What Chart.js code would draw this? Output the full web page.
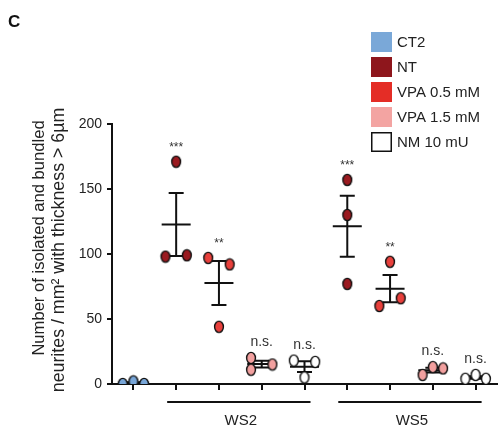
<!DOCTYPE html>
<html>
<head>
<meta charset="utf-8">
<script src="https://cdn.jsdelivr.net/npm/chart.js@4.4.1/dist/chart.umd.min.js"></script>
<style>
html,body{margin:0;padding:0;background:#fff;}
#wrap{width:503px;height:430px;position:relative;}
</style>
</head>
<body>
<div id="wrap"><canvas id="c" width="503" height="430"></canvas></div>
<script>
// ---------- DATA ----------
const categories = ['CT2','NT','VPA 0.5 mM','VPA 1.5 mM','NM 10 mU','NT','VPA 0.5 mM','VPA 1.5 mM','NM 10 mU'];
const legendLabels = ['CT2','NT','VPA 0.5 mM','VPA 1.5 mM','NM 10 mU'];
const ct2Values   = [0, 2, 0];
const ws2NT       = [98, 171, 99];
const ws2VPA05    = [97, 44, 92];
const ws2VPA15    = [20, 11, 15];
const ws2NM       = [18, 5, 17];
const ws5NT       = [157, 130, 77];
const ws5VPA05    = [94, 60, 66];
const ws5VPA15    = [7, 13, 12];
const ws5NM       = [4, 7, 4];
const sigLabels   = ['', '***', '**', 'n.s.', 'n.s.', '***', '**', 'n.s.', 'n.s.'];
const groupLabels = ['WS2', 'WS5'];
const groupSpans  = [[1, 4], [5, 8]];
const yTicks      = [0, 50, 100, 150, 200];
const yTitle      = ['Number of isolated and bundled', 'neurites / mm\u00B2 with thickness > 6\u00B5m'];

// ---------- STYLE / LAYOUT ----------
const FONT = 'Liberation Sans, Arial, Helvetica, sans-serif';
const colors = ['#78a6d8', '#9a1a20', '#e8403c', '#f2a09f', '#ffffff'];
const legendColors = ['#7aa8d8', '#8e161c', '#e42d26', '#f3a4a2', '#ffffff'];
// horizontal scatter of the three replicate points inside each category (in category units)
const jitter = [
  [-0.25, 0, 0.25], [-0.25, 0, 0.25], [-0.25, 0, 0.25], [-0.25, -0.25, 0.25], [-0.25, 0, 0.25],
  [0, 0, 0], [0, -0.25, 0.25], [-0.24, 0, 0.24], [-0.24, 0, 0.24]
];

const groupValues = [ct2Values, ws2NT, ws2VPA05, ws2VPA15, ws2NM, ws5NT, ws5VPA05, ws5VPA15, ws5NM];
const groupSeries = [0, 1, 2, 3, 4, 1, 2, 3, 4];

function makeDot(fill) {
  const cv = document.createElement('canvas');
  cv.width = 12; cv.height = 14;
  const g = cv.getContext('2d');
  g.beginPath();
  g.ellipse(6, 7, 4.4, 5.6, 0, 0, Math.PI * 2);
  g.fillStyle = fill; g.fill();
  g.lineWidth = 1.4; g.strokeStyle = '#111'; g.stroke();
  return cv;
}

const datasets = legendLabels.map((lab, s) => {
  const pts = [];
  groupValues.forEach((vals, gi) => {
    if (groupSeries[gi] !== s) return;
    vals.forEach((v, k) => pts.push({x: gi + jitter[gi][k], y: v}));
  });
  return {label: lab, data: pts, pointStyle: makeDot(colors[s]), backgroundColor: colors[s], borderColor: '#111'};
});

const extras = {
  id: 'extras',
  beforeDatasetsDraw(chart) {
    const {ctx, scales: {x, y}} = chart;
    ctx.save();
    ctx.strokeStyle = '#111'; ctx.lineWidth = 2; ctx.lineCap = 'butt';
    groupValues.forEach((vals, gi) => {
      const n = vals.length;
      const mean = vals.reduce((a, b) => a + b, 0) / n;
      const sd = Math.sqrt(vals.reduce((a, b) => a + (b - mean) * (b - mean), 0) / (n - 1));
      const sem = sd / Math.sqrt(n);
      const cx = x.getPixelForValue(gi);
      const ym = y.getPixelForValue(mean), yt = y.getPixelForValue(mean + sem), yb = y.getPixelForValue(Math.max(0, mean - sem));
      ctx.beginPath();
      ctx.moveTo(cx - 14.5, ym); ctx.lineTo(cx + 14.5, ym);
      ctx.moveTo(cx, yt); ctx.lineTo(cx, yb);
      ctx.moveTo(cx - 7.5, yt); ctx.lineTo(cx + 7.5, yt);
      ctx.moveTo(cx - 7.5, yb); ctx.lineTo(cx + 7.5, yb);
      ctx.stroke();
    });
    ctx.restore();
  },
  afterDraw(chart) {
    const {ctx, scales: {x, y}} = chart;
    ctx.save();
    // significance labels
    ctx.fillStyle = '#333'; ctx.textAlign = 'center'; ctx.textBaseline = 'alphabetic';
    sigLabels.forEach((t, gi) => {
      if (!t) return;
      const top = y.getPixelForValue(Math.max(...groupValues[gi]));
      const cx = x.getPixelForValue(gi);
      if (t.indexOf('*') >= 0) { ctx.font = '12px ' + FONT; ctx.fillText(t, cx, top - 11); }
      else { ctx.font = '14px ' + FONT; ctx.fillText(t, cx, top - 12); }
    });
    // group underlines and labels
    ctx.strokeStyle = '#111'; ctx.lineWidth = 2;
    ctx.fillStyle = '#222'; ctx.font = '15px ' + FONT;
    groupSpans.forEach((sp, i) => {
      const a = x.getPixelForValue(sp[0]) - 9, b = x.getPixelForValue(sp[1]) + 6;
      ctx.beginPath(); ctx.moveTo(a, 402); ctx.lineTo(b, 402); ctx.stroke();
      ctx.fillText(groupLabels[i], (a + b) / 2 + 2, 425);
    });
    // legend
    ctx.textAlign = 'left'; ctx.textBaseline = 'middle'; ctx.font = '15px ' + FONT;
    legendLabels.forEach((lab, i) => {
      const top = 32 + i * 25;
      ctx.fillStyle = legendColors[i];
      ctx.fillRect(371, top, 21, 20);
      if (i === 4) { ctx.lineWidth = 1.5; ctx.strokeStyle = '#111'; ctx.strokeRect(371.75, top + 0.75, 19.5, 18.5); }
      ctx.fillStyle = '#222';
      ctx.fillText(lab, 397, top + 10.5);
    });
    // y title
    ctx.save();
    ctx.rotate(-Math.PI / 2);
    ctx.textAlign = 'center'; ctx.textBaseline = 'middle'; ctx.fillStyle = '#222';
    ctx.font = '16.6px ' + FONT;
    ctx.fillText(yTitle[0], -238, 39);
    ctx.font = '17.8px ' + FONT;
    ctx.fillText(yTitle[1], -250, 59);
    ctx.restore();
    // panel letter
    ctx.fillStyle = '#111'; ctx.font = 'bold 17px ' + FONT; ctx.textAlign = 'left'; ctx.textBaseline = 'alphabetic';
    ctx.fillText('C', 8, 27);
    ctx.restore();
  }
};

new Chart(document.getElementById('c'), {
  type: 'scatter',
  data: {datasets},
  options: {
    responsive: false,
    animation: false,
    devicePixelRatio: 1,
    layout: {padding: {top: 124, left: 0, right: 0, bottom: 0}},
    plugins: {legend: {display: false}, tooltip: {enabled: false}},
    elements: {point: {radius: 5}},
    scales: {
      x: {
        type: 'linear', min: -0.5, max: categories.length - 0.5,
        afterBuildTicks: s => { s.ticks = categories.map((c, i) => ({value: i})); },
        ticks: {display: false},
        grid: {drawOnChartArea: false, drawTicks: true, tickLength: 6, color: '#111', lineWidth: 2},
        border: {color: '#111', width: 2},
        afterFit: s => { s.height = 46; }
      },
      y: {
        min: 0, max: 200,
        afterBuildTicks: s => { s.ticks = yTicks.map(v => ({value: v})); },
        ticks: {font: {size: 14, family: FONT}, color: '#222', padding: 5},
        grid: {drawOnChartArea: false, drawTicks: true, tickLength: 5, color: '#111', lineWidth: 2},
        border: {color: '#111', width: 2},
        afterFit: s => { s.width = 112; }
      }
    }
  },
  plugins: [extras]
});
</script>
</body>
</html>
